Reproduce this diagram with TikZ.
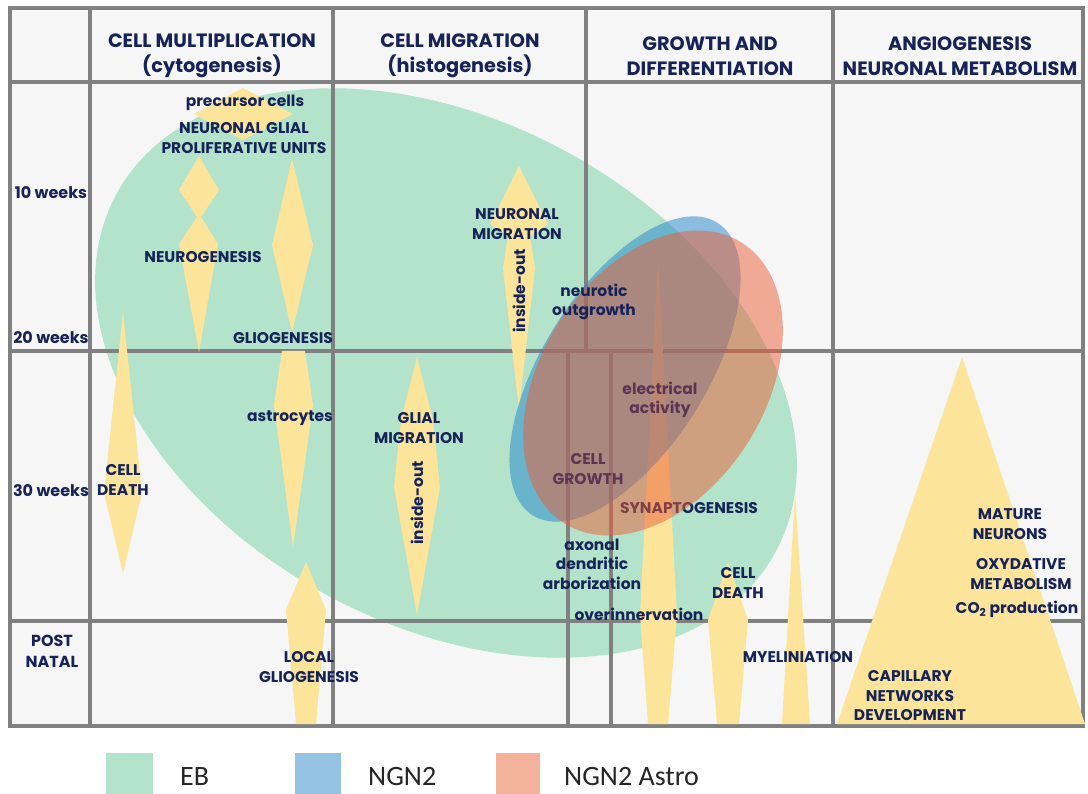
\documentclass[tikz,border=0pt]{standalone}
\usepackage{fontspec}
\setmainfont{Poppins}
\newfontfamily\legendfont{Carlito}

\definecolor{gridgray}{HTML}{808080}
\definecolor{cellbg}{HTML}{F6F6F6}
\definecolor{navy}{HTML}{162358}
\definecolor{mauve}{HTML}{5C3552}
\definecolor{ebgreen}{HTML}{B3E3CB}
\definecolor{ngnblue}{RGB}{34,134,204}
\definecolor{astroorange}{RGB}{234,94,54}
\definecolor{stage}{HTML}{FDE49B}
\definecolor{keyblue}{HTML}{95C3E3}
\definecolor{keyastro}{HTML}{F3B29B}

\tikzset{
  grid line/.style={gridgray, line width=4pt},
  phase/.style={fill=stage},
  lbl/.style={text=navy, font=\bfseries\fontsize{15.5}{19.5}\selectfont, align=center, inner sep=0pt},
  head/.style={text=navy, font=\bfseries\fontsize{19.3}{25}\selectfont, align=center, inner sep=0pt},
  week/.style={lbl, font=\bfseries\fontsize{16}{21}\selectfont},
  key/.style={font=\legendfont\fontsize{28}{30}\selectfont, anchor=west, inner sep=0pt, text=black!85},
}

\begin{document}
\begin{tikzpicture}[x=1pt, y=-1pt]
	\useasboundingbox (0,0) rectangle (1088,794);
	\fill[white] (0,0) rectangle (1088,794);
	\fill[cellbg] (10,8) rectangle (1083,726);

	% EB ellipse
	\fill[ebgreen, shift={(446,373)}, rotate=-28.5] (0,0) ellipse [x radius=375, y radius=252];

	% table
	\foreach \y in {82,351,621}
		\draw[grid line] (10,\y) -- (1083,\y);
	\foreach \x in {90,333,833}
		\draw[grid line] (\x,8) -- (\x,726);
	\draw[grid line] (586,8) -- (586,351);
	\foreach \x in {568,611}
		\draw[grid line] (\x,351) -- (\x,726);
	\draw[grid line] (10,8) rectangle (1083,726);

	% stages
	\fill[phase] (194,114) -- (243,88) -- (293,114) -- (243,140) -- cycle;
	\fill[phase] (199,156) -- (219,190) -- (201,217) -- (218,244) -- (199,352) -- (179,244) -- (197,217) -- (179,190) -- cycle;
	\fill[phase] (292,159) -- (313,245) -- (292,332) -- (272,245) -- cycle;
	\fill[phase] (282,351) -- (305,351) -- (313,405) -- (293,547) -- (274,405) -- cycle;
	\fill[phase] (306,562) -- (326,610) -- (316,724) -- (296,724) -- (286,610) -- cycle;
	\fill[phase] (123,312) -- (142,493) -- (123,573) -- (104,493) -- cycle;
	\fill[phase] (519,166) -- (548,224) -- (530,236) -- (535,268) -- (519,410) -- (503,268) -- (508,236) -- (490,224) -- cycle;
	\fill[phase] (417,357) -- (433,420) -- (440,487) -- (417,615) -- (394,487) -- (401,420) -- cycle;
	\fill[phase] (658,260) -- (677,615) -- (668,724) -- (648,724) -- (640,615) -- cycle;
	\fill[phase] (728,562) -- (748,620) -- (739,724) -- (717,724) -- (708,620) -- cycle;
	\fill[phase] (795,493) -- (810,724) -- (782,724) -- cycle;
	\fill[phase] (962,357) -- (1085,724) -- (837,724) -- cycle;

	\node[lbl] (synapto) at (689,508) {SYNAPTOGENESIS};

	% NGN2 and NGN2 Astro ellipses
	\fill[ngnblue, opacity=0.5, shift={(625,369)}, rotate=57.7] (0,0) ellipse [x radius=173, y radius=82];
	\fill[astroorange, opacity=0.5, shift={(653,383)}, rotate=57.6] (0,0) ellipse [x radius=166, y radius=112];

	% column heads
	\node[head] (mult) at (212,56) {CELL MULTIPLICATION\\(cytogenesis)};
	\node[head] (migr) at (460,56) {CELL MIGRATION\\(histogenesis)};
	\node[head] (grow) at (710,56) {GROWTH AND\\DIFFERENTIATION};
	\node[head] (angio) at (960,56) {ANGIOGENESIS\\NEURONAL METABOLISM};

	% rows
	\node[week] (w10) at (51,193) {10 weeks};
	\node[week] (w20) at (51,338) {20 weeks};
	\node[week] (w30) at (51,491) {30 weeks};
	\node[week] (post) at (52,651) {POST\\NATAL};

	% labels
	\node[lbl] (precursor) at (245,103) {precursor cells};
	\node[lbl] (units) at (244,138) {NEURONAL GLIAL\\PROLIFERATIVE UNITS};
	\node[lbl] (neuro) at (203,257) {NEUROGENESIS};
	\node[lbl] (glio) at (283,338) {GLIOGENESIS};
	\node[lbl] (astro) at (290,418) {astrocytes};
	\node[lbl] (death1) at (123,480) {CELL\\DEATH};
	\node[lbl] (glial) at (419,428) {GLIAL\\MIGRATION};
	\node[lbl] (local) at (309,667) {LOCAL\\GLIOGENESIS};
	\node[lbl] (neuronal) at (517,224) {NEURONAL\\MIGRATION};
	\node[lbl, rotate=90] (io1) at (519,291) {inside-out};
	\node[lbl, rotate=90] (io2) at (417,503) {inside-out};
	\node[lbl] (outgrowth) at (594,302) {neurotic\\outgrowth};
	\node[lbl, text=mauve] (electric) at (660,400) {electrical\\activity};
	\node[lbl, text=mauve] (growth) at (588,469) {CELL\\GROWTH};
	\node[lbl] (arbor) at (592,564) {axonal\\dendritic\\arborization};
	\node[lbl] (overinn) at (639,614) {overinnervation};
	\node[lbl] (death2) at (738,583) {CELL\\DEATH};
	\node[lbl] (myelin) at (798,657) {MYELINIATION};
	\node[lbl] (mature) at (1010,524) {MATURE\\NEURONS};
	\node[lbl] (oxy) at (1021,574) {OXYDATIVE\\METABOLISM};
	\node[lbl] (co2) at (1017,609) {CO\textsubscript{2} production};
	\node[lbl] (capil) at (910,696) {CAPILLARY\\NETWORKS\\DEVELOPMENT};

	% legend
	\fill[ebgreen] (106,753) rectangle (153,800);
	\node[key] (eb) at (180,777) {EB};
	\fill[keyblue] (295,753) rectangle (341,800);
	\node[key] (ngn) at (368,777) {NGN2};
	\fill[keyastro] (496,753) rectangle (540,800);
	\node[key] (ngnastro) at (564,777) {NGN2 Astro};
\end{tikzpicture}
\end{document}
